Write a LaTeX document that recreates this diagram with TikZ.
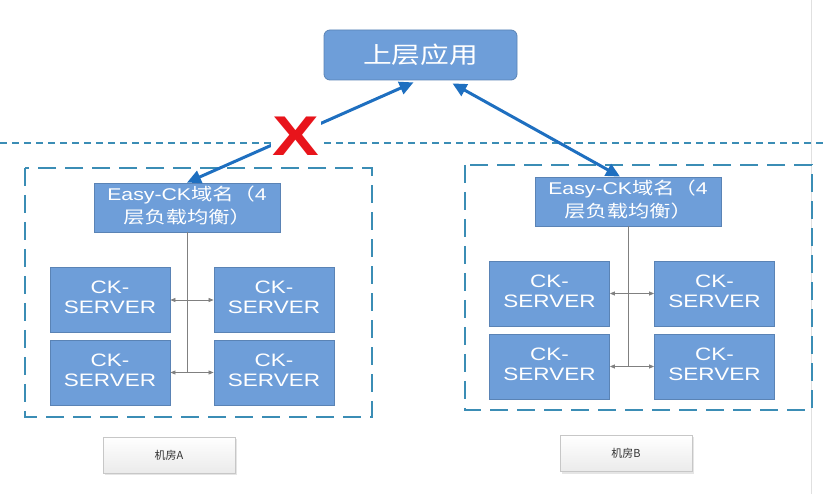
\documentclass[tikz,border=0pt]{standalone}
\usepackage{fontspec}
\setmainfont{Liberation Sans}
\newfontfamily\cjk{Noto Sans CJK SC}
\usetikzlibrary{arrows.meta,calc}
\newcommand\wide[1]{\scalebox{1.25}[1]{#1}}
\definecolor{boxblue}{HTML}{6E9ED9}
\definecolor{boxedge}{HTML}{5A83B5}
\definecolor{linkblue}{HTML}{1E6FC0}
\definecolor{zoneteal}{HTML}{3B8DB5}
\definecolor{crossred}{HTML}{E8141B}
\begin{document}
\begin{tikzpicture}[x=1pt,y=-1pt,
  appbox/.style={draw=boxedge,fill=boxblue,line width=0.8pt,rounded corners=6pt,
    minimum width=193pt,minimum height=50pt,inner sep=0pt,text=white},
  lbbox/.style={draw=boxedge,fill=boxblue,line width=0.8pt,
    minimum width=186pt,minimum height=49pt,inner sep=0pt,text=white},
  srvbox/.style={draw=boxedge,fill=boxblue,line width=0.8pt,
    minimum width=120pt,minimum height=65pt,inner sep=0pt,text=white},
  roombox/.style={draw=black!22,top color=white,bottom color=black!8,line width=0.6pt,
    minimum width=132pt,minimum height=36pt,inner sep=0pt,text=black!80},
  zone/.style={draw=zoneteal,line width=1.8pt,dash pattern=on 18pt off 9pt},
  link/.style={draw=linkblue,line width=3pt,
    {Triangle[length=14pt,width=13pt]}-{Triangle[length=14pt,width=13pt]}},
  feed/.style={draw=black!50,line width=0.7pt,-{Triangle[length=5pt,width=4pt]}},
  trunk/.style={draw=black!50,line width=0.7pt}]
\useasboundingbox (0,0) rectangle (828,494);

% frame line on the right edge of the page
\draw[black!12,line width=0.8pt] (811.5,0) -- (811.5,494);

% boundary between the application layer and the server rooms
\draw[zoneteal,line width=1.5pt,dash pattern=on 7pt off 5pt] (0,143) -- (828,143);

% server rooms
\draw[zone] (25,168) rectangle (372,417);
\draw[zone] (465,165) rectangle (812,410);

% application
\node[appbox] (app) at (420.5,55) {\wide{\fontsize{23}{25}\selectfont\cjk 上层应用}};

% load balancers
\node[lbbox] (lbA) at (187,207.5) {\wide{\fontsize{17}{23}\selectfont
  \begin{tabular}{@{}c@{}}Easy-CK{\cjk 域名（}4\\{\cjk 层负载均衡）}\end{tabular}}};
\node[lbbox] (lbB) at (628,201.5) {\wide{\fontsize{17}{23}\selectfont
  \begin{tabular}{@{}c@{}}Easy-CK{\cjk 域名（}4\\{\cjk 层负载均衡）}\end{tabular}}};

% servers in both rooms
\foreach \n/\x/\y in {a1/110/300, a2/274/300, a3/110/372.5, a4/274/372.5,
                      b1/549.5/293.5, b2/714.5/293.5, b3/549.5/366.5, b4/714.5/366.5}
  \node[srvbox] (\n) at (\x,\y) {\wide{\fontsize{18}{20}\selectfont
    \begin{tabular}{@{}c@{}}CK-\\SERVER\end{tabular}}};

% internal distribution, room A
\draw[trunk] (lbA.south) -- (lbA.south |- a3.east);
\draw[feed] (lbA.south |- a1.east) -- (a1.east);
\draw[feed] (lbA.south |- a2.west) -- (a2.west);
\draw[feed] (lbA.south |- a3.east) -- (a3.east);
\draw[feed] (lbA.south |- a4.west) -- (a4.west);

% internal distribution, room B
\draw[trunk] (lbB.south) -- (lbB.south |- b3.east);
\draw[feed] (lbB.south |- b1.east) -- (b1.east);
\draw[feed] (lbB.south |- b2.west) -- (b2.west);
\draw[feed] (lbB.south |- b3.east) -- (b3.east);
\draw[feed] (lbB.south |- b4.west) -- (b4.west);

% links from the application to each room
\draw[link] ($(app.south)+(-7,2)$) -- (lbA.north);
\draw[link] ($(app.south)+(32,3)$) -- ($(lbB.north)+(-8,0)$);

% broken link marker
\node[fill=white,inner sep=2pt,text height=42pt,text depth=0pt,text=crossred] (cut) at (296,135)
  {\wide{\fontsize{56}{56}\selectfont\bfseries X}};

% room labels
\fill[black!10] (105,439) rectangle (237,475);
\node[roombox] (roomA) at (169,455) {\fontsize{11}{13}\selectfont\cjk 机房A};
\fill[black!10] (562,437) rectangle (694,474);
\node[roombox] (roomB) at (626,453.5) {\fontsize{11}{13}\selectfont\cjk 机房B};
\end{tikzpicture}
\end{document}
